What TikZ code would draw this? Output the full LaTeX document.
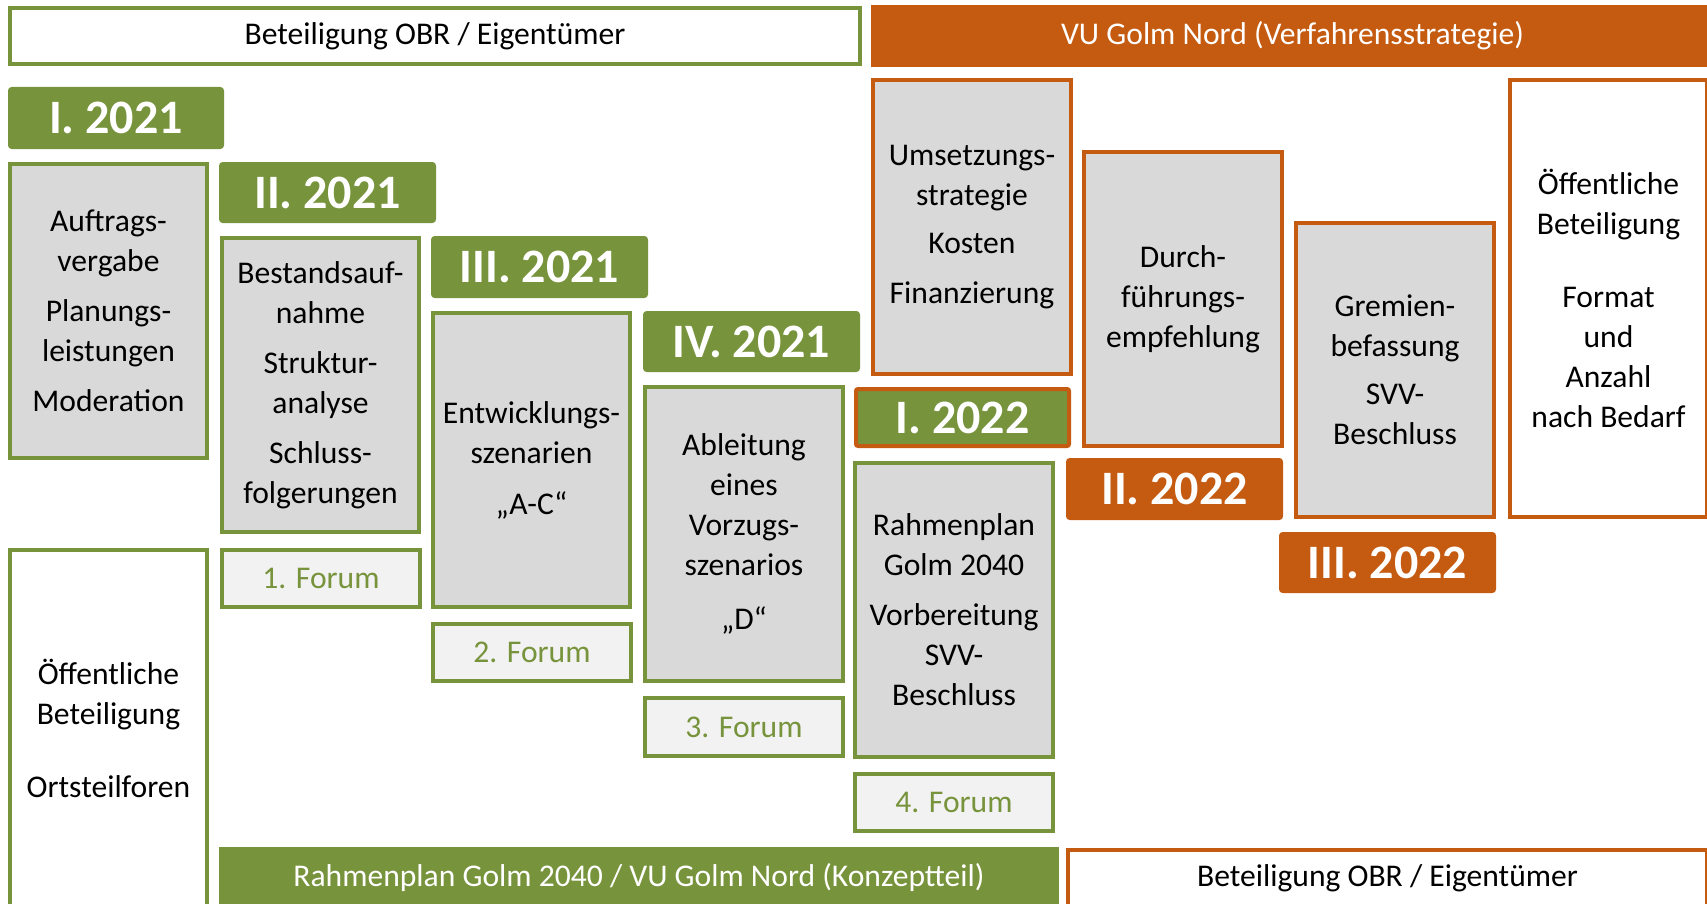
\documentclass[tikz,border=0pt]{standalone}
\usepackage{fontspec}
\setmainfont{Carlito}
\definecolor{gr}{HTML}{77933C}
\definecolor{og}{HTML}{C55A11}
\definecolor{gy}{HTML}{D9D9D9}
\definecolor{lg}{HTML}{F2F2F2}
\tikzset{
  base/.style={inner sep=0pt, line width=2pt, align=center, anchor=center, font=\fontsize{15.8}{20}\selectfont},
  gbox/.style={base, draw=gr, fill=gy},
  obox/.style={base, draw=og, fill=gy},
  gwhite/.style={base, draw=gr, fill=white},
  owhite/.style={base, draw=og, fill=white},
  forum/.style={base, draw=gr, fill=lg, text=gr},
  gyear/.style={base, rounded corners=1pt, draw=gr, fill=gr, text=white, font=\fontsize{24}{28}\selectfont\bfseries},
  oyear/.style={base, rounded corners=1pt, draw=og, fill=og, text=white, font=\fontsize{24}{28}\selectfont\bfseries},
  gband/.style={base, draw=gr, fill=gr, text=white},
  oband/.style={base, draw=og, fill=og, text=white},
}
% \bx{style}{x1}{y1}{x2}{y2}{name}{text}
\newcommand\bx[7]{\node[#1, minimum width={(#4-#2)*0.5pt}, minimum height={(#5-#3)*0.5pt}] (#6) at ({(#2+#4)/2},{(#3+#5)/2}) {#7};}
\begin{document}
\begin{tikzpicture}[x=0.5pt,y=-0.5pt]
\useasboundingbox (0,0) rectangle (1707,904);
\clip (0,0) rectangle (1707,904);
% top bars
\bx{gwhite}{10}{8}{860}{64}{topL}{Beteiligung OBR / Eigentümer}
\bx{oband}{873}{7}{1712}{65}{topR}{VU Golm Nord (Verfahrensstrategie)}
% column 1
\bx{gyear}{10}{89}{222}{147}{y1}{I. 2021}
\bx{gbox}{10}{164}{207}{458}{b1}{Auftrags-\\vergabe\\[5pt]Planungs-\\leistungen\\[5pt]Moderation}
\bx{gwhite}{10}{550}{207}{906}{pubL}{Öffentliche\\Beteiligung\\[16.5pt]Ortsteilforen}
% column 2
\bx{gyear}{221}{164}{434}{221}{y2}{II. 2021}
\bx{gbox}{222}{238}{419}{532}{b2}{Bestandsauf-\\nahme\\[5pt]Struktur-\\analyse\\[5pt]Schluss-\\folgerungen}
\bx{forum}{222}{550}{420}{607}{f1}{1. Forum}
% column 3
\bx{gyear}{433}{238}{646}{296}{y3}{III. 2021}
\bx{gbox}{433}{313}{630}{607}{b3}{Entwicklungs-\\szenarien\\[5.5pt]„A-C“}
\bx{forum}{433}{624}{631}{681}{f2}{2. Forum}
% column 4
\bx{gyear}{645}{313}{858}{370}{y4}{IV. 2021}
\bx{gbox}{645}{387}{843}{681}{b4}{Ableitung\\eines\\Vorzugs-\\szenarios\\[7pt]„D“}
\bx{forum}{645}{698}{843}{756}{f3}{3. Forum}
% column 5
\bx{obox}{873}{80}{1071}{374}{b6}{Umsetzungs-\\strategie\\[4pt]Kosten\\[5pt]Finanzierung}
\bx{gyear, draw=og}{856}{389}{1069}{446}{y5}{I. 2022}
\bx{gbox}{855}{463}{1053}{757}{b5}{Rahmenplan\\Golm 2040\\[5pt]Vorbereitung\\SVV-\\Beschluss}
\bx{forum}{855}{774}{1053}{831}{f4}{4. Forum}
% column 6
\bx{obox}{1084}{152}{1282}{446}{b7}{Durch-\\führungs-\\empfehlung}
\bx{oyear}{1068}{460}{1281}{518}{y6}{II. 2022}
% column 7
\bx{obox}{1296}{223}{1494}{517}{b8}{Gremien-\\befassung\\[4pt]SVV-\\Beschluss}
\bx{oyear}{1281}{534}{1494}{591}{y7}{III. 2022}
% column 8
\bx{owhite}{1510}{80}{1707}{517}{pubR}{Öffentliche\\Beteiligung\\[16.5pt]Format\\und\\Anzahl\\nach Bedarf}
% bottom bars
\bx{gband}{221}{849}{1057}{906}{botL}{Rahmenplan Golm 2040 / VU Golm Nord (Konzeptteil)}
\bx{owhite}{1068}{850}{1707}{906}{botR}{Beteiligung OBR / Eigentümer}
\end{tikzpicture}
\end{document}
